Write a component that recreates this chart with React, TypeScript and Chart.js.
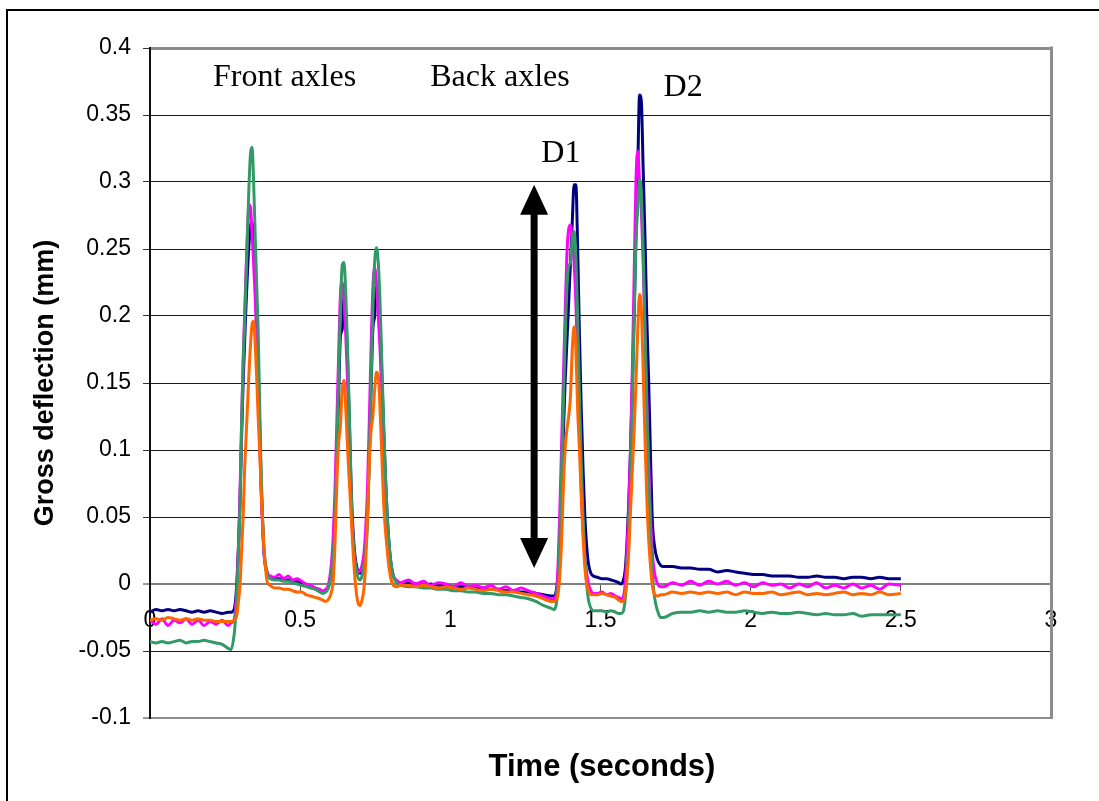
import React, { useEffect, useRef } from "react";
import { Chart, registerables } from "chart.js";

Chart.register(...registerables);

// Time (seconds) shared by all four traces
const times = [
  // baseline before the first axle
  0, 0.02, 0.04, 0.06, 0.08, 0.1, 0.12, 0.14, 0.16, 0.18, 0.2, 0.22, 0.24, 0.26,
  // front axle 1
  0.27, 0.28, 0.285, 0.29, 0.295, 0.3, 0.305, 0.31, 0.315, 0.32, 0.325, 0.33, 0.335, 0.34, 0.345, 0.35, 0.355, 0.36, 0.365, 0.37, 0.375, 0.38, 0.39,
  // flat
  0.4, 0.415, 0.43, 0.445, 0.46, 0.475, 0.49, 0.505, 0.52, 0.535, 0.55, 0.565,
  // front axles 2 and 3
  0.575, 0.585, 0.592, 0.598, 0.604, 0.61, 0.616, 0.622, 0.628, 0.634, 0.64, 0.646, 0.652, 0.658, 0.664, 0.67, 0.676, 0.682, 0.688, 0.694, 0.7,
  0.706, 0.712, 0.718, 0.724, 0.73, 0.736, 0.742, 0.748, 0.754, 0.76, 0.766, 0.772, 0.778, 0.784, 0.79, 0.796, 0.802, 0.81, 0.82,
  // flat
  0.835, 0.86, 0.885, 0.91, 0.935, 0.96, 0.985, 1.01, 1.035, 1.06, 1.085, 1.11, 1.135, 1.16, 1.185, 1.21, 1.235, 1.26, 1.285, 1.31, 1.335,
  // back axle D1
  1.345, 1.352, 1.358, 1.364, 1.37, 1.376, 1.382, 1.388, 1.394, 1.4, 1.406, 1.412, 1.418, 1.424, 1.43, 1.436, 1.442, 1.448, 1.454, 1.46, 1.468, 1.476,
  // valley
  1.49, 1.505, 1.52, 1.535, 1.55, 1.56, 1.568,
  // back axle D2
  1.575, 1.582, 1.588, 1.594, 1.6, 1.606, 1.612, 1.618, 1.624, 1.63, 1.636, 1.642, 1.648, 1.654, 1.66, 1.666, 1.672, 1.68, 1.69, 1.7,
  // tail
  1.71, 1.74, 1.77, 1.8, 1.83, 1.86, 1.89, 1.92, 1.95, 1.98, 2.01, 2.04, 2.07, 2.1, 2.13, 2.16, 2.19, 2.22, 2.25, 2.28, 2.31, 2.34, 2.37, 2.4, 2.43, 2.46, 2.5,
];

const navy = [
  -0.021, -0.019, -0.02, -0.019, -0.02, -0.019, -0.02, -0.021, -0.02, -0.021, -0.02, -0.021, -0.022, -0.021,
  -0.021, -0.019, -0.012, 0.005, 0.03, 0.065, 0.11, 0.15, 0.18, 0.21, 0.235, 0.255, 0.268, 0.27, 0.255, 0.23, 0.2, 0.165, 0.12, 0.075, 0.045, 0.022, 0.008,
  0.005, 0.004, 0.004, 0.003, 0.003, 0.002, 0.002, 0.0, -0.001, -0.002, -0.003, -0.005,
  -0.006, -0.005, -0.003, 0.001, 0.01, 0.025, 0.05, 0.095, 0.14, 0.185, 0.19, 0.215, 0.2, 0.165, 0.12, 0.07, 0.04, 0.022, 0.013, 0.009, 0.008,
  0.01, 0.017, 0.03, 0.05, 0.095, 0.145, 0.19, 0.2, 0.222, 0.215, 0.19, 0.155, 0.115, 0.08, 0.05, 0.03, 0.016, 0.006, 0.002,
  0.0, 0.001, 0.0, -0.001, 0.0, -0.001, -0.001, -0.002, -0.002, -0.002, -0.003, -0.003, -0.004, -0.004, -0.005, -0.005, -0.006, -0.006, -0.007, -0.008, -0.009,
  -0.009, -0.006, 0.005, 0.03, 0.07, 0.11, 0.15, 0.18, 0.21, 0.24, 0.27, 0.298, 0.298, 0.25, 0.185, 0.13, 0.085, 0.05, 0.028, 0.015, 0.008, 0.006,
  0.005, 0.004, 0.004, 0.003, 0.002, 0.001, 0.0,
  0.002, 0.01, 0.03, 0.06, 0.1, 0.15, 0.2, 0.26, 0.31, 0.365, 0.36, 0.31, 0.26, 0.2, 0.155, 0.1, 0.05, 0.028, 0.018, 0.014,
  0.013, 0.013, 0.012, 0.012, 0.011, 0.011, 0.009, 0.01, 0.009, 0.008, 0.007, 0.007, 0.006, 0.006, 0.006, 0.005, 0.005, 0.006, 0.005, 0.005, 0.004, 0.005, 0.005, 0.004, 0.005, 0.004, 0.004,
];

const magenta = [
  -0.027, -0.03, -0.026, -0.031, -0.027, -0.029, -0.026, -0.03, -0.027, -0.031, -0.028, -0.03, -0.027, -0.031,
  -0.029, -0.027, -0.018, 0.0, 0.03, 0.07, 0.12, 0.165, 0.2, 0.235, 0.265, 0.283, 0.28, 0.26, 0.24, 0.215, 0.185, 0.15, 0.11, 0.07, 0.042, 0.022, 0.009,
  0.006, 0.005, 0.007, 0.004, 0.006, 0.003, 0.004, 0.002, 0.0, -0.001, -0.003, -0.004,
  -0.005, -0.004, -0.002, 0.004, 0.015, 0.035, 0.07, 0.12, 0.17, 0.215, 0.225, 0.21, 0.185, 0.15, 0.105, 0.06, 0.032, 0.018, 0.011, 0.009, 0.01,
  0.014, 0.022, 0.04, 0.07, 0.12, 0.175, 0.22, 0.236, 0.225, 0.2, 0.175, 0.14, 0.1, 0.068, 0.042, 0.025, 0.014, 0.006, 0.003,
  0.001, 0.003, 0.0, 0.002, -0.001, 0.001, 0.0, -0.002, 0.001, -0.002, -0.001, -0.003, -0.001, -0.004, -0.002, -0.005, -0.003, -0.005, -0.007, -0.009, -0.011,
  -0.011, -0.008, 0.01, 0.05, 0.1, 0.15, 0.2, 0.245, 0.265, 0.268, 0.255, 0.24, 0.21, 0.165, 0.115, 0.07, 0.04, 0.02, 0.008, 0.0, -0.005, -0.007,
  -0.007, -0.006, -0.008, -0.007, -0.009, -0.01, -0.011,
  -0.01, 0.0, 0.025, 0.055, 0.1, 0.16, 0.23, 0.3, 0.323, 0.3, 0.28, 0.24, 0.19, 0.14, 0.095, 0.055, 0.025, 0.008, 0.0, -0.002,
  -0.002, 0.001, -0.001, 0.002, -0.001, 0.002, 0.0, 0.002, -0.001, 0.001, -0.002, 0.001, -0.001, 0.0, -0.003, 0.0, -0.002, 0.001, -0.003, -0.001, -0.003, 0.0, -0.003, -0.001, -0.004, 0.0, -0.001,
];

const green = [
  -0.043, -0.044, -0.043, -0.044, -0.043, -0.042, -0.044, -0.043, -0.043, -0.042, -0.043, -0.044, -0.045, -0.048,
  -0.049, -0.038, -0.025, -0.005, 0.025, 0.06, 0.12, 0.165, 0.195, 0.23, 0.265, 0.3, 0.322, 0.326, 0.3, 0.262, 0.225, 0.19, 0.135, 0.085, 0.05, 0.025, 0.008,
  0.004, 0.003, 0.003, 0.002, 0.002, 0.001, 0.0, -0.001, -0.002, -0.003, -0.004, -0.006,
  -0.007, -0.006, -0.004, 0.0, 0.008, 0.022, 0.045, 0.1, 0.15, 0.205, 0.238, 0.24, 0.215, 0.175, 0.125, 0.068, 0.035, 0.018, 0.009, 0.004, 0.003,
  0.006, 0.014, 0.025, 0.045, 0.09, 0.15, 0.205, 0.24, 0.251, 0.24, 0.21, 0.165, 0.12, 0.08, 0.05, 0.03, 0.016, 0.006, 0.001,
  -0.001, -0.002, -0.002, -0.003, -0.003, -0.004, -0.004, -0.005, -0.005, -0.006, -0.006, -0.007, -0.007, -0.008, -0.008, -0.009, -0.01, -0.011, -0.013, -0.016, -0.018,
  -0.019, -0.016, -0.004, 0.03, 0.08, 0.13, 0.18, 0.22, 0.237, 0.24, 0.258, 0.263, 0.245, 0.2, 0.14, 0.09, 0.05, 0.02, 0.0, -0.012, -0.018, -0.02,
  -0.02, -0.02, -0.021, -0.02, -0.021, -0.022, -0.022,
  -0.021, -0.012, 0.005, 0.03, 0.07, 0.13, 0.2, 0.255, 0.28, 0.302, 0.29, 0.25, 0.19, 0.13, 0.08, 0.04, 0.01, -0.01, -0.02, -0.025,
  -0.025, -0.022, -0.021, -0.021, -0.02, -0.021, -0.02, -0.021, -0.021, -0.02, -0.021, -0.022, -0.021, -0.022, -0.022, -0.021, -0.022, -0.023, -0.022, -0.023, -0.023, -0.022, -0.024, -0.023, -0.023, -0.023, -0.023,
];

const orange = [
  -0.027, -0.026, -0.027, -0.025, -0.026, -0.027, -0.026, -0.027, -0.026, -0.027, -0.027, -0.028, -0.028, -0.028,
  -0.028, -0.027, -0.026, -0.022, -0.012, 0.0, 0.025, 0.05, 0.085, 0.11, 0.135, 0.16, 0.18, 0.194, 0.196, 0.18, 0.155, 0.125, 0.1, 0.07, 0.045, 0.025, 0.002,
  -0.001, -0.003, -0.003, -0.004, -0.004, -0.005, -0.006, -0.006, -0.008, -0.009, -0.01, -0.011,
  -0.012, -0.013, -0.012, -0.01, -0.006, 0.002, 0.03, 0.075, 0.105, 0.118, 0.145, 0.152, 0.13, 0.1, 0.075, 0.05, 0.025, 0.005, -0.008, -0.015, -0.016,
  -0.012, -0.004, 0.015, 0.05, 0.09, 0.115, 0.125, 0.145, 0.158, 0.155, 0.13, 0.095, 0.06, 0.04, 0.025, 0.012, 0.004, -0.001, -0.002,
  -0.001, -0.001, -0.002, -0.001, -0.002, -0.003, -0.002, -0.003, -0.004, -0.003, -0.004, -0.005, -0.004, -0.005, -0.006, -0.006, -0.007, -0.008, -0.009, -0.011, -0.013,
  -0.013, -0.012, -0.008, 0.005, 0.03, 0.07, 0.1, 0.115, 0.125, 0.14, 0.175, 0.192, 0.175, 0.13, 0.1, 0.065, 0.035, 0.012, 0.0, -0.005, -0.008, -0.008,
  -0.008, -0.007, -0.008, -0.009, -0.01, -0.012, -0.013,
  -0.013, -0.008, 0.005, 0.025, 0.055, 0.085, 0.115, 0.15, 0.19, 0.216, 0.205, 0.16, 0.11, 0.065, 0.035, 0.015, 0.0, -0.008, -0.009, -0.008,
  -0.008, -0.006, -0.007, -0.006, -0.007, -0.006, -0.007, -0.006, -0.008, -0.006, -0.007, -0.007, -0.006, -0.008, -0.007, -0.006, -0.008, -0.007, -0.008, -0.007, -0.006, -0.008, -0.007, -0.008, -0.006, -0.008, -0.007,
];

const seriesNames = ["Trace 1", "Trace 2", "Trace 3", "Trace 4"];
const seriesColors = ["#000080", "#FF00FF", "#339966", "#FF6600"];

const xTicks = [0, 0.5, 1, 1.5, 2, 2.5, 3];
const xTickLabels = ["0", "0.5", "1", "1.5", "2", "2.5", "3"];
const yTicks = [-0.1, -0.05, 0, 0.05, 0.1, 0.15, 0.2, 0.25, 0.3, 0.35, 0.4];
const yTickLabels = ["-0.1", "-0.05", "0", "0.05", "0.1", "0.15", "0.2", "0.25", "0.3", "0.35", "0.4"];

const xTitle = "Time (seconds)";
const yTitle = "Gross deflection (mm)";

// Text labels placed in data coordinates (time, deflection) = left/baseline
const notes = [
  { text: "Front axles", t: 0.21, v: 0.372 },
  { text: "Back axles", t: 0.933, v: 0.372 },
  { text: "D1", t: 1.303, v: 0.315 },
  { text: "D2", t: 1.71, v: 0.364 },
];
// Double-headed arrow (time, from, to)
const arrow = { t: 1.279, from: 0.012, to: 0.298 };

const findLabel = (vals: number[], labels: string[], v: number) => {
  const i = vals.findIndex((x) => Math.abs(x - v) < 1e-9);
  return i >= 0 ? labels[i] : "";
};

const decor = {
  id: "decor",
  beforeDraw(chart: any) {
    const { ctx, width, height } = chart;
    ctx.save();
    ctx.fillStyle = "#ffffff";
    ctx.fillRect(0, 0, width, height);
    ctx.restore();
  },
  afterDraw(chart: any) {
    const { ctx, chartArea, scales } = chart;
    const xs = scales.x;
    const ys = scales.y;
    ctx.save();
    // outer frame
    ctx.fillStyle = "#000";
    ctx.fillRect(6, 9, chart.width, 2);
    ctx.fillRect(6, 9, 2, chart.height);
    // plot frame right side
    ctx.strokeStyle = "#8c8c8c";
    ctx.lineWidth = 3;
    ctx.beginPath();
    ctx.moveTo(chartArea.right + 0.5, chartArea.top - 1.5);
    ctx.lineTo(chartArea.right + 0.5, chartArea.bottom + 1);
    ctx.stroke();

    // annotations
    ctx.fillStyle = "#000";
    ctx.font = '32px "Liberation Serif", "Times New Roman", serif';
    ctx.textAlign = "left";
    ctx.textBaseline = "alphabetic";
    notes.forEach((n) => {
      ctx.fillText(n.text, xs.getPixelForValue(n.t), ys.getPixelForValue(n.v));
    });

    // arrow
    const ax = xs.getPixelForValue(arrow.t);
    const yTop = ys.getPixelForValue(arrow.to);
    const yBot = ys.getPixelForValue(arrow.from);
    const headLen = 30;
    const headHalf = 14;
    ctx.lineWidth = 7;
    ctx.strokeStyle = "#000";
    ctx.beginPath();
    ctx.moveTo(ax, yTop + headLen - 2);
    ctx.lineTo(ax, yBot - headLen + 2);
    ctx.stroke();
    ctx.beginPath();
    ctx.moveTo(ax, yTop);
    ctx.lineTo(ax + headHalf, yTop + headLen);
    ctx.lineTo(ax - headHalf, yTop + headLen);
    ctx.closePath();
    ctx.fill();
    ctx.beginPath();
    ctx.moveTo(ax, yBot);
    ctx.lineTo(ax + headHalf, yBot - headLen);
    ctx.lineTo(ax - headHalf, yBot - headLen);
    ctx.closePath();
    ctx.fill();

    // axis titles
    ctx.textAlign = "center";
    ctx.textBaseline = "middle";
    ctx.font = 'bold 31px "Liberation Sans", Arial, sans-serif';
    ctx.fillText(xTitle, 602, 767);
    ctx.font = 'bold 27px "Liberation Sans", Arial, sans-serif';
    ctx.translate(46, (chartArea.top + chartArea.bottom) / 2);
    ctx.rotate(-Math.PI / 2);
    ctx.fillText(yTitle, 0, 0);
    ctx.restore();
  },
};

export default function App() {
  const ref = useRef<HTMLCanvasElement | null>(null);

  useEffect(() => {
    document.body.style.margin = "0";
    const canvas = ref.current;
    if (!canvas) return;
    const all = [navy, magenta, green, orange];
    const order = [3, 2, 1, 0]; // orange drawn on top
    const datasets = order.map((k) => ({
      label: seriesNames[k],
      data: times.map((t, i) => ({ x: t, y: all[k][i] })),
      borderColor: seriesColors[k],
      backgroundColor: seriesColors[k],
      borderWidth: 3,
      pointRadius: 0,
      fill: false,
      cubicInterpolationMode: "monotone" as const,
    }));

    const tickFont = { family: '"Liberation Sans", Arial, sans-serif', size: 23 };

    const chart = new Chart(canvas, {
      type: "line",
      data: { datasets },
      options: {
        animation: false,
        responsive: false,
        devicePixelRatio: 1,
        layout: { padding: { left: 0, top: 48, right: 48, bottom: 83 } },
        plugins: { legend: { display: false }, tooltip: { enabled: false } },
        scales: {
          x: {
            type: "linear",
            min: 0,
            max: 3,
            position: { y: 0 } as any,
            afterBuildTicks: (s: any) => {
              s.ticks = xTicks.map((value) => ({ value }));
            },
            ticks: {
              autoSkip: false,
              maxRotation: 0,
              color: "#000",
              font: tickFont,
              padding: 17,
              callback: (v: any) => findLabel(xTicks, xTickLabels, Number(v)),
            },
            grid: {
              display: true,
              drawOnChartArea: false,
              drawTicks: true,
              tickLength: 6,
              color: "#555",
            },
            border: { display: true, color: "#808080", width: 2 },
          },
          y: {
            type: "linear",
            min: -0.1,
            max: 0.4,
            afterFit: (s: any) => {
              s.width = 150;
            },
            afterBuildTicks: (s: any) => {
              s.ticks = yTicks.map((value) => ({ value }));
            },
            ticks: {
              color: "#000",
              font: tickFont,
              padding: 12,
              callback: (v: any) => findLabel(yTicks, yTickLabels, Number(v)),
            },
            grid: {
              color: (c: any) => {
                const v = c.tick ? c.tick.value : 0;
                if (Math.abs(v - 0.4) < 1e-9 || Math.abs(v + 0.1) < 1e-9 || Math.abs(v) < 1e-9) return "#8c8c8c";
                return "#1a1a1a";
              },
              lineWidth: (c: any) => {
                const v = c.tick ? c.tick.value : 0;
                if (Math.abs(v - 0.4) < 1e-9) return 3;
                if (Math.abs(v + 0.1) < 1e-9) return 2;
                if (Math.abs(v) < 1e-9) return 2;
                return 1;
              },
              tickColor: "#333",
              tickWidth: 1,
              tickLength: 7,
              drawTicks: true,
            },
            border: { display: true, color: "#111", width: 2 },
          },
        },
      },
      plugins: [decor],
    });
    return () => chart.destroy();
  }, []);

  return (
    <canvas
      ref={ref}
      width={1099}
      height={801}
      style={{ display: "block", width: 1099, height: 801 }}
    />
  );
}
